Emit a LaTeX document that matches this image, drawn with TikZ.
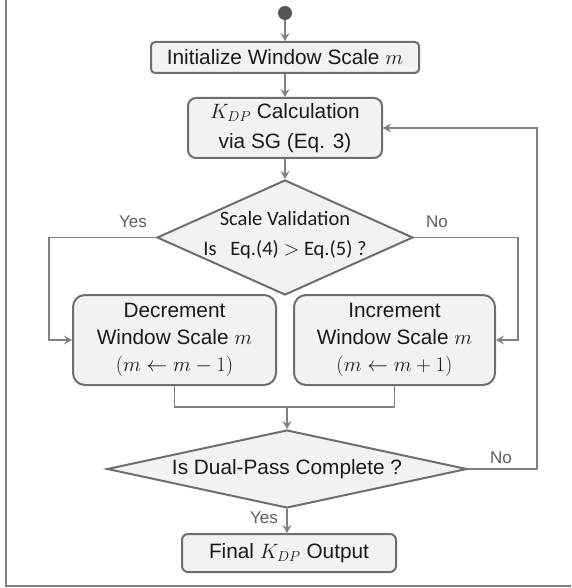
\documentclass[tikz,border=0pt]{standalone}
\usepackage{fontspec}
\setmainfont{Liberation Sans}
\newfontfamily\calib{Carlito}
\usetikzlibrary{shapes.geometric,arrows.meta}
\definecolor{linec}{HTML}{808080}
\definecolor{boxc}{HTML}{6E6E6E}
\definecolor{fillc}{HTML}{F2F2F2}
\definecolor{txtc}{HTML}{1A1A1A}
\definecolor{labc}{HTML}{5E5E5E}
\definecolor{dotc}{HTML}{555555}
\begin{document}
\begin{tikzpicture}[x=1pt,y=-1pt,
  box/.style={draw=boxc, line width=2pt, fill=fillc, text=txtc, inner sep=0pt, align=center,
    font=\fontsize{20.8}{27}\selectfont},
  dia/.style={draw=boxc, line width=2pt, fill=fillc, diamond, inner sep=0pt},
  arr/.style={draw=linec, line width=1.4pt, -{Stealth[length=8pt,width=9pt,inset=3pt]}},
  conn/.style={draw=linec, line width=1.4pt},
  lab/.style={text=labc, font=\fontsize{17}{20}\selectfont, inner sep=0pt},
  dtext/.style={text=txtc, align=center, inner sep=0pt}]
\useasboundingbox (0,0) rectangle (571,588);
\draw[draw=linec, line width=1.2pt] (6,0) -- (6,586) -- (571,586);

\node[circle, fill=dotc, minimum size=14pt, inner sep=0pt] (start) at (285,13) {};
\node[box, rounded corners=4pt, minimum width=268pt, minimum height=31pt] (init) at (285,57.5) {Initialize Window Scale $m$};
\node[box, rounded corners=8pt, minimum width=194pt, minimum height=60pt, font=\fontsize{20.8}{30}\selectfont] (kdp) at (285,128) {$K_{DP}$ Calculation\\via SG (Eq. 3)};
\node[dia, minimum width=256pt, minimum height=115pt] (d1) at (285,237.5) {};
\node[dtext, font=\calib\fontsize{20.5}{30}\selectfont] (d1t) at (285,235) {Scale Validation\\Is\ \ \ Eq.(4) $>$ Eq.(5) ?};
\node[box, rounded corners=12pt, minimum width=203pt, minimum height=90pt] (dec) at (174.5,340) {Decrement\\Window Scale $m$\\$(m \leftarrow m-1)$};
\node[box, rounded corners=12pt, minimum width=201pt, minimum height=90pt] (inc) at (394.5,340) {Increment\\Window Scale $m$\\$(m \leftarrow m+1)$};
\coordinate (join) at (287,407);
\node[dia, minimum width=360pt, minimum height=78pt] (d2) at (287,469) {};
\node[dtext, font=\fontsize{20.8}{24}\selectfont] (d2t) at (d2.center) {Is Dual-Pass Complete ?};
\node[box, rounded corners=6pt, minimum width=214pt, minimum height=38pt] (fin) at (289,553) {Final $K_{DP}$ Output};

\draw[arr] (start) -- (init);
\draw[arr] (init) -- (kdp);
\draw[arr] (kdp) -- (d1);
\draw[arr] (d1.west) -| ([xshift=-23pt]dec.west) -- (dec.west);
\draw[arr] (d1.east) -| ([xshift=22pt]inc.east) -- (inc.east);
\draw[conn] (dec.south) |- (join) -| (inc.south);
\draw[arr] (join) -- (d2);
\draw[arr] (d2.east) -| ([xshift=154pt]kdp.east) -- (kdp.east);
\draw[arr] (d2.south) -- (fin.north -| d2.south);

\node[lab] (y1) at (133,222) {Yes};
\node[lab] (n1) at (437,222) {No};
\node[lab] (n2) at (501,458) {No};
\node[lab] (y2) at (264,518) {Yes};
\end{tikzpicture}
\end{document}
